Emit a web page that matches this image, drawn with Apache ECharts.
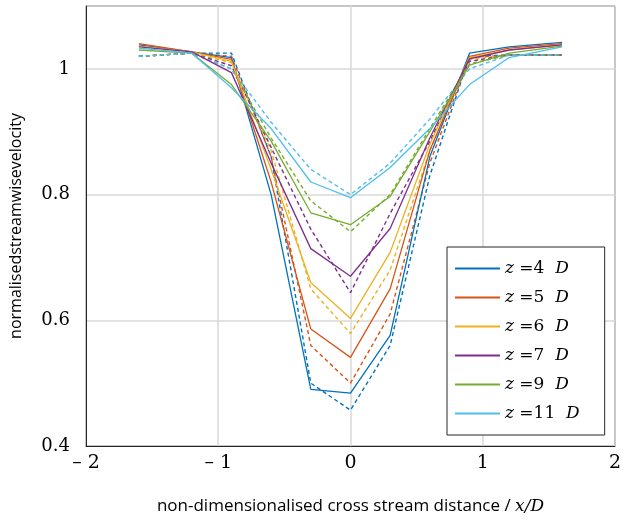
<!DOCTYPE html>
<html>
<head>
<meta charset="utf-8">
<script src="https://cdn.jsdelivr.net/npm/echarts@6/dist/echarts.min.js"></script>
<style>
  html, body { margin: 0; padding: 0; background: #fff; }
  #chart { width: 624px; height: 520px; }
</style>
</head>
<body>
<div id="chart"></div>
<script>
// cross stream positions x/D
var xPos = [-1.6, -1.2, -0.9, -0.6, -0.3, 0, 0.3, 0.6, 0.9, 1.2, 1.6];

// solid lines
var z4  = [1.038, 1.027, 1.018, 0.80, 0.490, 0.484, 0.576, 0.86, 1.025, 1.035, 1.042];
var z5  = [1.040, 1.027, 1.015, 0.82, 0.586, 0.541, 0.650, 0.87, 1.020, 1.033, 1.040];
var z6  = [1.036, 1.027, 1.012, 0.84, 0.660, 0.603, 0.708, 0.88, 1.018, 1.030, 1.038];
var z7  = [1.035, 1.027, 0.994, 0.85, 0.714, 0.670, 0.746, 0.89, 1.016, 1.030, 1.038];
var z9  = [1.030, 1.025, 0.975, 0.885, 0.771, 0.752, 0.797, 0.90, 1.006, 1.025, 1.036];
var z11 = [1.033, 1.025, 0.970, 0.905, 0.820, 0.795, 0.843, 0.905, 0.975, 1.018, 1.035];

// dashed lines
var z4d  = [1.020, 1.025, 1.025, 0.86, 0.500, 0.457, 0.560, 0.83, 1.020, 1.022, 1.022];
var z5d  = [1.020, 1.025, 1.020, 0.86, 0.560, 0.500, 0.610, 0.85, 1.018, 1.022, 1.022];
var z6d  = [1.020, 1.025, 1.010, 0.87, 0.650, 0.579, 0.680, 0.87, 1.015, 1.022, 1.022];
var z7d  = [1.020, 1.025, 1.005, 0.875, 0.745, 0.644, 0.770, 0.885, 1.012, 1.022, 1.022];
var z9d  = [1.020, 1.025, 1.000, 0.89, 0.790, 0.741, 0.800, 0.905, 1.008, 1.022, 1.022];
var z11d = [1.020, 1.025, 1.000, 0.915, 0.840, 0.800, 0.850, 0.92, 1.000, 1.022, 1.022];

var names = ['4', '5', '6', '7', '9', '11'];
var solid = [z4, z5, z6, z7, z9, z11];
var dashed = [z4d, z5d, z6d, z7d, z9d, z11d];
var colors = ['#0072BD', '#D95319', '#EDB120', '#7E2F8E', '#77AC30', '#4DBEEE'];

function pairs(ys) {
    return xPos.map(function (x, i) { return [x, ys[i]]; });
}

var series = [];
names.forEach(function (n, i) {
    series.push({
        name: 'z' + n,
        type: 'line',
        data: pairs(solid[i]),
        symbol: 'none',
        lineStyle: { color: colors[i], width: 1.3 },
        itemStyle: { color: colors[i] },
        z: 3
    });
});
names.forEach(function (n, i) {
    series.push({
        name: 'z' + n + 'dash',
        type: 'line',
        data: pairs(dashed[i]),
        symbol: 'none',
        lineStyle: { color: colors[i], width: 1.4, type: [4, 3] },
        itemStyle: { color: colors[i] },
        z: 2
    });
});

var myChart = echarts.init(document.getElementById('chart'));
var option = {
    animation: false,
    grid: {
        left: 79, right: 9, top: 6, bottom: 73,
        show: true, borderColor: '#262626', borderWidth: 1
    },
    legend: {
        data: names.map(function (n) { return 'z' + n; }),
        orient: 'vertical',
        left: 447, top: 247,
        padding: [13, 25, 13, 8],
        itemGap: 12,
        itemWidth: 45,
        itemHeight: 2,
        icon: 'rect',
        backgroundColor: '#fff',
        borderColor: '#262626',
        borderWidth: 1,
        formatter: function (name) {
            var n = name.replace('z', '');
            return '{i|z} =' + n + '  {i|D}';
        },
        textStyle: {
            fontFamily: 'DejaVu Serif',
            fontSize: 17,
            color: '#000',
            rich: {
                i: { fontStyle: 'italic', fontFamily: 'DejaVu Serif', fontSize: 17, color: '#000' }
            }
        }
    },
    xAxis: {
        type: 'value',
        min: -2, max: 2, interval: 1,
        name: '{n|non-dimensionalised cross stream distance / }{i|x/D}',
        nameLocation: 'middle',
        nameGap: 52,
        nameTextStyle: {
            rich: {
                n: { fontFamily: 'Open Sans', fontSize: 17, color: '#000' },
                i: { fontFamily: 'DejaVu Serif', fontStyle: 'italic', fontSize: 17, color: '#000' }
            }
        },
        axisLine: { onZero: false, lineStyle: { color: '#262626' } },
        axisTick: { show: false },
        axisLabel: {
            margin: 8,
            fontFamily: 'DejaVu Serif',
            fontSize: 19,
            color: '#000',
            formatter: function (v) { return v < 0 ? '\u2013 ' + Math.abs(v) : String(v); }
        },
        splitLine: { show: true, lineStyle: { color: '#d9d9d9', width: 1.5 } }
    },
    yAxis: {
        type: 'value',
        min: 0.4, max: 1.1, interval: 0.2,
        name: 'normalisedstreamwisevelocity',
        nameLocation: 'middle',
        nameGap: 62,
        nameTextStyle: { fontFamily: 'Open Sans', fontSize: 16, color: '#000' },
        axisLine: { show: true, onZero: false, lineStyle: { color: '#262626' } },
        axisTick: { show: false },
        axisLabel: {
            margin: 16,
            fontFamily: 'DejaVu Serif',
            fontSize: 18,
            color: '#000',
            formatter: function (v) {
                if (v > 1.05) return '';
                return String(Math.round(v * 10) / 10);
            }
        },
        splitLine: { show: true, lineStyle: { color: '#d9d9d9', width: 1.5 } }
    },
    series: series
};
myChart.setOption(option);
</script>
</body>
</html>
